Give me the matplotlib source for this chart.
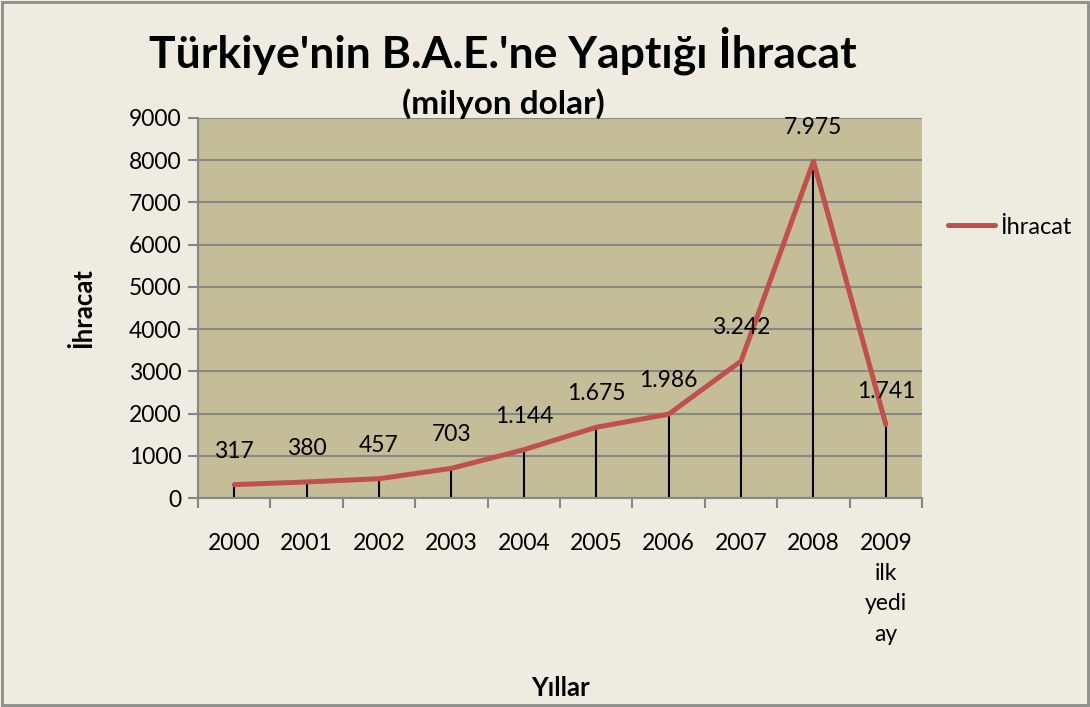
import matplotlib.pyplot as plt
from matplotlib.patches import Rectangle

years = ['2000', '2001', '2002', '2003', '2004', '2005', '2006', '2007', '2008', '2009\nilk\nyedi\nay']
ihracat = [317, 380, 457, 703, 1144, 1675, 1986, 3242, 7975, 1741]
etiketler = ['317', '380', '457', '703', '1.144', '1.675', '1.986', '3.242', '7.975', '1.741']

plt.rcParams['font.family'] = ['Lato', 'DejaVu Sans']

fig = plt.figure(figsize=(10.9, 7.07), dpi=100, facecolor='#EEEBE0')
fig.patches.append(Rectangle((0.002, 0.003), 0.996, 0.994, transform=fig.transFigure,
                             fill=False, edgecolor='#8C8C8C', linewidth=2))
ax = fig.add_axes([0.1817, 0.2956, 0.6642, 0.5375])
ax.set_facecolor('#C4BD97')

x = list(range(len(years)))
ax.vlines(x, 0, ihracat, color='black', linewidth=1.5, zorder=2)
ax.plot(x, ihracat, color='#C0504D', linewidth=3.6, solid_capstyle='round', label='İhracat', zorder=3)
for xi, v, t in zip(x, ihracat, etiketler):
    ax.annotate(t, (xi, v), xytext=(0, 24), textcoords='offset points',
                ha='center', va='center', fontsize=16.5)

ax.set_xlim(-0.5, len(years) - 0.5)
ax.set_ylim(0, 9000)
ax.set_yticks(range(0, 9001, 1000))
ax.yaxis.grid(True, color='#878787', linewidth=1.5)
ax.set_axisbelow(True)
ax.set_xticks([i - 0.5 for i in range(len(years) + 1)])
ax.set_xticklabels([])
ax.set_xticks(x, minor=True)
ax.set_xticklabels(years, minor=True, fontsize=16.5, linespacing=1.55, va='top')
ax.tick_params(axis='x', which='minor', length=0, pad=25)
ax.tick_params(axis='x', which='major', length=7, width=1.5, color='#878787', direction='out')
ax.tick_params(axis='y', length=7, width=1.5, color='#878787', labelsize=16.5, pad=5)
for s in ['top', 'right']:
    ax.spines[s].set_visible(False)
for s in ['left', 'bottom']:
    ax.spines[s].set_color('#878787')
    ax.spines[s].set_linewidth(1.5)

ax.set_ylabel('İhracat', fontsize=18.5, fontweight='bold', labelpad=24)
fig.text(0.514, 0.027, 'Yıllar', ha='center', va='center', fontsize=18.5, fontweight='bold')
fig.text(0.461, 0.928, "Türkiye'nin B.A.E.'ne Yaptığı İhracat", ha='center', va='center',
         fontsize=32, fontweight='bold')
fig.text(0.462, 0.853, '(milyon dolar)', ha='center', va='center', fontsize=24, fontweight='bold')

ax.legend(loc='center left', bbox_to_anchor=(1.016, 0.713), frameon=False, fontsize=17,
          handlelength=2.0, handletextpad=0.2, borderaxespad=0.3, borderpad=0.3)

fig.savefig('out.png', dpi=100, facecolor=fig.get_facecolor())
